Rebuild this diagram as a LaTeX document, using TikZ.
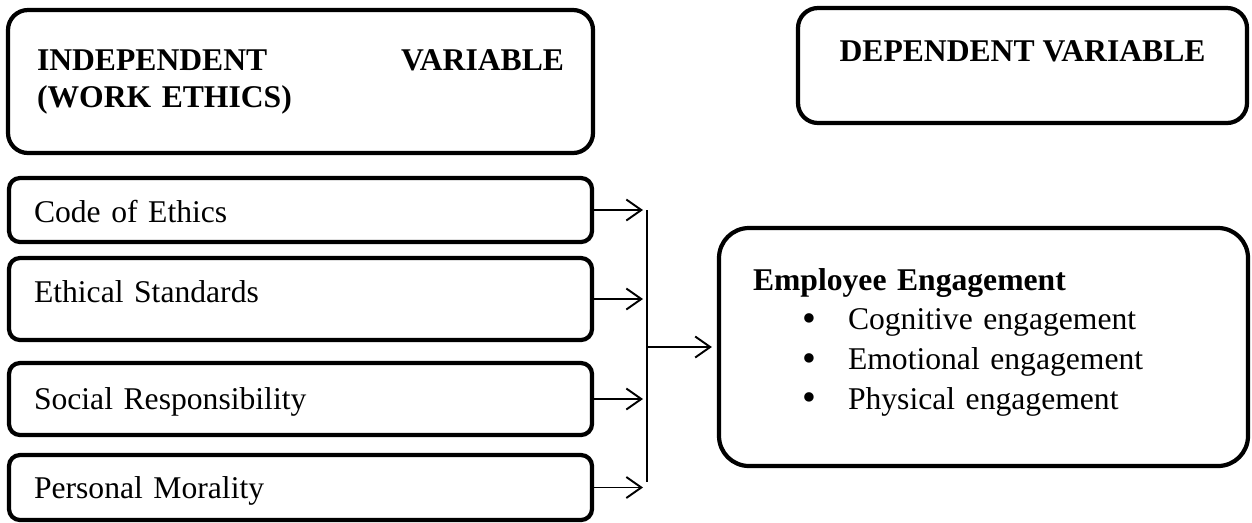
\documentclass[tikz,border=0pt]{standalone}
\usepackage{fontspec}
\setmainfont{Liberation Serif}
\usetikzlibrary{arrows.meta, positioning}

\newcommand{\dotitem}[1]{\hspace*{0.98cm}\makebox[0.92cm][l]{\raisebox{-0.06em}{\scalebox{1.25}{\textbullet}}}#1}

\begin{document}
\begin{tikzpicture}[
  every node/.style={font=\fontsize{18}{21}\selectfont},
  head/.style={draw, line width=2.4pt, rounded corners=0.4cm, inner sep=0pt},
  factor/.style={draw, line width=2.4pt, rounded corners=0.22cm, minimum width=11.66cm,
     text width=10.66cm, align=left, inner xsep=0.5cm, inner ysep=0pt, text depth=0.1cm},
  link/.style={-{Straight Barb[length=0.3cm,width=0.42cm]}, line width=1.1pt, shorten >=0.08cm}
]
\useasboundingbox (0,0) rectangle (25.04,-10.44);

% headings
\node[head, minimum width=11.7cm, minimum height=2.86cm, text width=10.54cm, align=left,
  font=\fontsize{18}{21}\selectfont\bfseries] (indep) at (6.01,-1.63)
  {INDEPENDENT\hfill VARIABLE\\(WORK ETHICS)};
\node[head, minimum width=8.98cm, minimum height=2.3cm, text height=0.1cm, text depth=0.25cm,
  font=\fontsize{18}{21}\selectfont\bfseries] (dep) at (20.45,-1.31) {DEPENDENT VARIABLE};

% work ethics factors
\node[factor, minimum height=1.28cm, text height=0.61cm] (code) at (6.01,-4.2) {Code of Ethics};
\node[factor, minimum height=1.64cm, text height=0.25cm] (ethic) at (6.01,-5.98) {Ethical Standards};
\node[factor, minimum height=1.44cm, text height=0.5cm] (social) at (6.01,-7.98) {Social Responsibility};
\node[factor, minimum height=1.3cm, text height=0.52cm] (moral) at (6.01,-9.75) {Personal Morality};

% outcome
\node[draw, line width=2.4pt, rounded corners=0.6cm, minimum width=10.58cm, minimum height=4.76cm,
  text width=9.22cm, align=left, inner sep=0pt,
  font=\fontsize{18}{22.5}\selectfont] (engage) at (19.67,-6.94)
  {\textbf{Employee Engagement}\\
   \dotitem{Cognitive engagement}\\
   \dotitem{Emotional engagement}\\
   \dotitem{Physical engagement}\rule[-0.33cm]{0pt}{0.33cm}};

% connectors
\coordinate (bartop) at (12.94,-4.2);
\coordinate (barbot) at (12.94,-9.64);
\draw[line width=0.9pt] (bartop) -- (barbot);
\foreach \n in {code,ethic,social,moral}
  \draw[link] (\n.east) -- (\n.east -| bartop);
\draw[link, shorten >=0.1cm] (engage.west -| bartop) -- (engage.west);
\end{tikzpicture}
\end{document}
